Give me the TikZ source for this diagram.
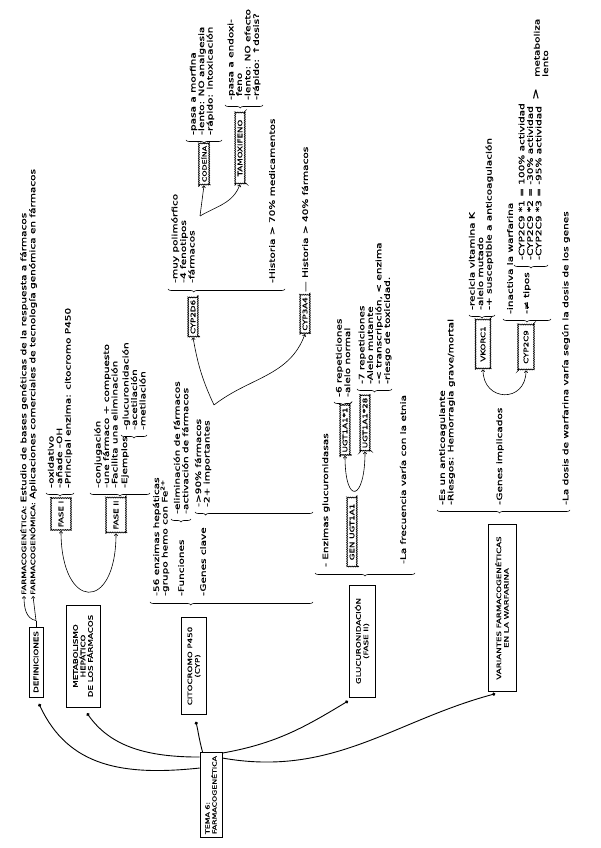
\documentclass[tikz,border=0pt]{standalone}
\usepackage{fontspec}
\newfontfamily\handfont{DejaVu Sans}[FakeStretch=1.4, FakeBold=0.9]
\newcommand\hand{\handfont\fontsize{7.5}{8.5}\selectfont}
\newcommand\capsf{\handfont\fontsize{6.2}{7.5}\selectfont}
\newcommand\rootf{\handfont\fontsize{5.6}{7}\selectfont}
\usetikzlibrary{positioning, arrows.meta, decorations.pathreplacing, decorations.pathmorphing}

\begin{document}
\begin{tikzpicture}[
  x=1pt, y=1pt, rotate=90, transform shape,
  txt/.style={font=\hand, align=left, anchor=west, inner sep=1pt},
  mainbox/.style={draw, line width=0.9pt, align=center, font=\capsf, inner sep=2pt},
  blob/.style={draw, line width=0.6pt, decorate,
               decoration={bumps, segment length=3.5pt, amplitude=1pt},
               font=\capsf, inner sep=3pt},
  br/.style={decorate, decoration={brace, amplitude=3pt}, line width=0.6pt},
  link/.style={line width=0.9pt, -{Circle[length=3.2pt]}, shorten >=7pt},
  arr/.style={line width=0.6pt, -{Straight Barb[length=2pt, width=3.5pt]}},
  darr/.style={arr, {Straight Barb[length=2pt, width=3.5pt]}-{Straight Barb[length=2pt, width=3.5pt]}},
]
  \path[fill=white, use as bounding box] (0,0) rectangle (848,-601);

  % --- tema central ---
  \node[mainbox, align=left, font=\rootf, minimum width=85, minimum height=22] (root) at (53,-211)
    {TEMA 6:\\FARMACOGENÉTICA};

  % --- bloques principales ---
  \node[mainbox, minimum width=70, minimum height=14] (def) at (186,-36) {DEFINICIONES};
  \node[mainbox, minimum width=102, minimum height=34] (meta) at (192,-83)
    {METABOLISMO\\HEPÁTICO\\DE LOS FÁRMACOS};
  \node[mainbox, minimum width=97, minimum height=25] (cyp) at (182,-194) {CITOCROMO P450\\(CYP)};
  \node[mainbox, minimum width=112, minimum height=26] (gluc) at (207,-362) {GLUCURONIDACIÓN\\(FASE II)};
  \node[mainbox, minimum width=167, minimum height=28] (war) at (240,-502)
    {VARIANTES FARMACOGENÉTICAS\\EN LA WARFARINA};

  \draw[link] ([xshift=-16]root.north east) to[out=96, in=205, looseness=1.1] (def.west);
  \draw[link] ([xshift=-5]root.north east) to[out=90, in=215] (meta.west);
  \draw[link] ([yshift=-3]root.north east) to[out=15, in=195] (cyp.west);
  \draw[link] ([xshift=-1]root.south east) to[out=-80, in=121] ([yshift=8]gluc.west);
  \draw[link] ([xshift=-6]root.south east) to[out=-100, in=105] (war.west);

  % --- definiciones ---
  \node[txt] (d1) at (252,-24) {{\capsf FARMACOGENÉTICA:} Estudio de bases genéticas de la respuesta a fármacos};
  \node[txt] (d2) at (252,-33) {{\capsf FARMACOGENÓMICA:} Aplicaciones comerciales de tecnología genómica en fármacos};
  \coordinate (fork) at ([xshift=6]def.east);
  \draw[line width=0.6pt] (def.east) -- (fork);
  \draw[arr] (fork) -- (d2.west);
  \draw[arr] (fork) to[out=80, in=180] (d1.west);

  % --- metabolismo: fase I / fase II ---
  \node[blob, minimum width=33, minimum height=21] (f1) at (334,-61) {FASE I};
  \node[blob, minimum width=36, minimum height=21] (f2) at (333,-116) {FASE II};
  \draw[darr] (f1.west) .. controls +(-80,0) and +(-80,0) .. (f2.west);
  \draw[br] (355,-74) -- (355,-46);
  \node[txt] (f1list) at (359,-60) {-oxidativo\\-añade -OH\\-Principal enzima: citocromo P450};
  \draw[br] (355,-150) -- (355,-90);
  \node[txt] (f2list) at (359,-106) {-conjugación\\-une fármaco + compuesto\\-Facilita una eliminación};
  \node[txt] (ej) at (359,-125) {-Ejemplos};
  \draw[br] (413,-147) -- (413,-121);
  \node[txt] (ejlist) at (417,-134) {-glucuronidación\\-acetilación\\-metilación};

  % --- citocromo P450 ---
  \draw[br, decoration={aspect=0.75}] (246,-313) -- (246,-150);
  \node[txt] (cypgen) at (251,-161) {-56 enzimas hepáticas\\-grupo hemo con Fe\textsuperscript{2+}};
  \node[txt] (func) at (251,-181) {-Funciones};
  \draw[br] (329,-191) -- (329,-171);
  \node[txt] (funclist) at (333,-181) {-eliminación de fármacos\\-activación de fármacos};
  \node[txt] (genes) at (251,-203) {-Genes clave};
  \draw[br, decoration={aspect=0.91}] (336,-313) -- (336,-195);
  \node[txt] (geneslist) at (340,-203) {->90\% fármacos\\-2+ importantes};
  \coordinate (imp) at (443,-214);
  \node[blob] (d6) at (531,-193) {CYP2D6};
  \node[blob] (a4) at (534,-305) {CYP3A4};
  \draw[arr] (imp) to[out=25, in=190] (d6.west);
  \draw[arr] (imp) to[out=-52, in=160] (a4.west);
  \draw[br, decoration={aspect=0.78}] (559,-285) -- (559,-168);
  \node[txt] (d6list) at (564,-183) {-muy polimórfico\\-4 fenotipos\\-fármacos};
  \node[txt] (h70) at (564,-272) {-Historia > 70\% medicamentos};
  \node[txt, right=1pt of a4] (h40) {— Historia > 40\% fármacos};

  \node[blob, font=\rootf] (cod) at (684,-204) {CODEÍNA};
  \node[blob, minimum width=72] (tam) at (700,-240) {TAMOXIFENO};
  \coordinate (farm) at (632,-200);
  \draw[arr] (farm) -- (cod.west);
  \draw[arr] (farm) to[out=-60, in=160] (tam.west);
  \draw[br] (708,-222) -- (708,-186);
  \node[txt] (codlist) at (712,-202) {-pasa a morfina\\-lento: NO analgesia\\-rápido: intoxicación};
  \draw[br, decoration={aspect=0.6}] (743,-263) -- (743,-225);
  \node[txt] (tamlist) at (747,-244) {-pasa a endoxi-\\\phantom{-}feno\\-lento: NO efecto\\-rápido: ↑dosis?};

  % --- glucuronidación ---
  \draw[br] (275,-415) -- (275,-315);
  \node[txt] (enz) at (280,-326) {- Enzimas glucuronidasas};
  \node[blob, minimum width=70] (gen) at (316,-352) {GEN UGT1A1};
  \node[blob] (u1) at (418,-345) {UGT1A1*1};
  \node[blob] (u28) at (425,-365) {UGT1A1*28};
  \draw[darr] (u1.west) .. controls +(-50,0) and +(-50,0) .. (u28.west);
  \draw[br] (446,-352) -- (446,-334);
  \node[txt] (u1list) at (450,-343) {-6 repeticiones\\-alelo normal};
  \draw[br] (459,-392) -- (459,-357);
  \node[txt] (u28list) at (463,-375)
    {-7 repeticiones\\-Alelo mutante\\-< transcripción, < enzima\\-riesgo de toxicidad.};
  \node[txt] (etnia) at (283,-403) {-La frecuencia varía con la etnia};

  % --- warfarina ---
  \draw[br, decoration={aspect=0.53}] (338,-570) -- (338,-437);
  \node[txt] (anti) at (342,-447) {-Es un anticoagulante\\-Riesgos: Hemorragia grave/mortal};
  \node[txt] (gimp) at (342,-500) {-Genes implicados};
  \node[blob, minimum width=50, minimum height=16] (vk) at (504,-483) {VKORC1};
  \node[blob, minimum width=46, minimum height=17] (c9) at (501,-526) {CYP2C9};
  \draw[darr] (vk.west) .. controls +(-33,0) and +(-33,0) .. (c9.west);
  \draw[br] (533,-495) -- (533,-469);
  \node[txt] (vklist) at (537,-481) {-recicla vitamina K\\-alelo mutado\\-+ susceptible a anticoagulación};
  \draw[br] (529,-551) -- (529,-503);
  \node[txt] (inact) at (533,-510) {-inactiva la warfarina};
  \node[txt] (tipos) at (533,-527) {-≠ tipos};
  \draw[br] (583,-548) -- (583,-514);
  \node[txt] (tiposlist) at (587,-530)
    {-CYP2C9 *1 = 100\% actividad\\-CYP2C9 *2 = -30\% actividad\\-CYP2C9 *3 = -95\% actividad};
  \node[txt, font=\handfont\fontsize{10}{10}\selectfont] (gt) at (747,-536) {>};
  \node[txt] (lento) at (770,-541) {metaboliza\\lento};
  \node[txt] (dosis) at (342,-566) {-La dosis de warfarina varía según la dosis de los genes};
\end{tikzpicture}
\end{document}
